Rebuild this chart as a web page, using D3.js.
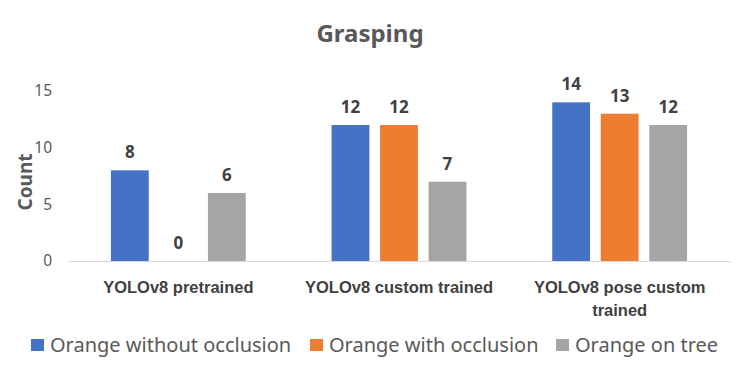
<!DOCTYPE html>
<html>
<head>
<meta charset="utf-8">
<script src="https://d3js.org/d3.v7.min.js"></script>
<style>
  body { margin: 0; background: #fff; }
  svg { font-family: "Noto Sans", sans-serif; }
</style>
</head>
<body>
<div id="chart"></div>
<script>
// chart data
const categories = ["YOLOv8 pretrained", "YOLOv8 custom trained", "YOLOv8 pose custom trained"];
const seriesNames = ["Orange without occlusion", "Orange with occlusion", "Orange on tree"];
const withoutOcclusion = [8, 12, 14];
const withOcclusion = [0, 12, 13];
const onTree = [6, 7, 12];
const yTicks = [0, 5, 10, 15];
const colors = ["#4472C4", "#ED7D31", "#A5A5A5"];

const seriesValues = [withoutOcclusion, withOcclusion, onTree];
const rows = categories.map((c, i) => ({
    label: c,
    values: seriesNames.map((s, j) => ({ series: s, idx: j, value: seriesValues[j][i] }))
}));

const width = 739;
const height = 375;
const margin = { top: 91, right: 9, bottom: 114, left: 68 };

const svg = d3.select("#chart")
    .append("svg")
    .attr("width", width)
    .attr("height", height);

// title
svg.append("text")
    .attr("x", 370)
    .attr("y", 42)
    .attr("text-anchor", "middle")
    .attr("font-size", 24)
    .attr("font-weight", "bold")
    .attr("fill", "#595959")
    .text("Grasping");

// scales
const x0 = d3.scaleBand()
    .domain(categories)
    .range([margin.left, width - margin.right])
    .padding(0);

const x1 = d3.scaleBand()
    .domain(seriesNames)
    .range([0, x0.bandwidth()])
    .paddingInner(0.22)
    .paddingOuter(0.885);

const y = d3.scaleLinear()
    .domain([0, 15])
    .range([height - margin.bottom, margin.top]);

// y axis
const yAxis = svg.append("g")
    .attr("transform", `translate(${margin.left},0)`)
    .call(d3.axisLeft(y).tickValues(yTicks).tickSize(0).tickPadding(16));
yAxis.select(".domain").remove();
yAxis.selectAll("text")
    .attr("font-size", 15.5)
    .attr("font-family", "Noto Sans, sans-serif")
    .attr("fill", "#595959");

// y axis title
svg.append("text")
    .attr("transform", `translate(32,${(margin.top + height - margin.bottom) / 2 + 6}) rotate(-90)`)
    .attr("text-anchor", "middle")
    .attr("font-size", 19)
    .attr("font-weight", "bold")
    .attr("fill", "#595959")
    .text("Count");

// x axis
const xAxis = svg.append("g")
    .attr("transform", `translate(0,${height - margin.bottom})`)
    .call(d3.axisBottom(x0).tickSize(0).tickPadding(0));
xAxis.select(".domain").attr("stroke", "#D9D9D9");
xAxis.selectAll("text").remove();

// category labels (wrapped like the original)
const catLines = {
    "YOLOv8 pretrained": ["YOLOv8 pretrained"],
    "YOLOv8 custom trained": ["YOLOv8 custom trained"],
    "YOLOv8 pose custom trained": ["YOLOv8 pose custom", "trained"]
};
xAxis.selectAll(".cat")
    .data(categories)
    .enter()
    .append("text")
    .attr("class", "cat")
    .attr("x", d => x0(d) + x0.bandwidth() / 2)
    .attr("y", 32)
    .attr("text-anchor", "middle")
    .attr("font-size", 16.5)
    .attr("font-weight", "bold")
    .attr("fill", "#404040")
    .selectAll("tspan")
    .data(d => catLines[d].map((t, i) => ({ t, i, cx: x0(d) + x0.bandwidth() / 2 })))
    .enter()
    .append("tspan")
    .attr("x", d => d.cx)
    .attr("dy", d => d.i === 0 ? 0 : 23)
    .text(d => d.t);

// bars
const groups = svg.selectAll(".group")
    .data(rows)
    .enter()
    .append("g")
    .attr("class", "group")
    .attr("transform", d => `translate(${x0(d.label)},0)`);

groups.selectAll("rect")
    .data(d => d.values)
    .enter()
    .append("rect")
    .attr("x", d => x1(d.series))
    .attr("y", d => y(d.value))
    .attr("width", x1.bandwidth())
    .attr("height", d => y(0) - y(d.value))
    .attr("fill", d => colors[d.idx]);

// data labels
groups.selectAll(".val")
    .data(d => d.values)
    .enter()
    .append("text")
    .attr("class", "val")
    .attr("x", d => x1(d.series) + x1.bandwidth() / 2)
    .attr("y", d => y(d.value) - 12)
    .attr("text-anchor", "middle")
    .attr("font-size", 17)
    .attr("font-weight", "bold")
    .attr("fill", "#404040")
    .text(d => d.value);

// legend
const legendX = [31, 310, 556];
const legend = svg.selectAll(".legend")
    .data(seriesNames)
    .enter()
    .append("g")
    .attr("class", "legend")
    .attr("transform", (d, i) => `translate(${legendX[i]},345)`);

legend.append("rect")
    .attr("x", 0)
    .attr("y", -6)
    .attr("width", 13)
    .attr("height", 12)
    .attr("fill", (d, i) => colors[i]);

legend.append("text")
    .attr("x", 19)
    .attr("y", 7)
    .attr("font-size", 20)
    .attr("fill", "#595959")
    .text(d => d);
</script>
</body>
</html>
